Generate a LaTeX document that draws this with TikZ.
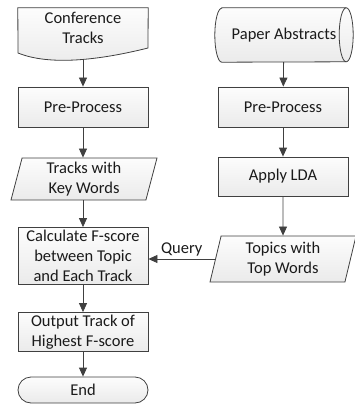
\documentclass[tikz,border=0pt]{standalone}
\usepackage{fontspec}
\setmainfont{Carlito}
\usetikzlibrary{shapes.geometric,arrows.meta,backgrounds}
\definecolor{FlowLine}{HTML}{404040}
\definecolor{FlowText}{HTML}{1A1A1A}

\begin{document}
\begin{tikzpicture}[x=1pt,y=-1pt,
    every node/.style={font=\fontsize{16.5}{20}\selectfont, text=FlowText, align=center, inner sep=0pt},
    flowfill/.style={draw=FlowLine, line width=0.8pt, top color=gray!2, bottom color=gray!16},
    procbox/.style={flowfill, rectangle, minimum width=130pt, minimum height=39pt},
    iobox/.style={flowfill, trapezium, trapezium left angle=72, trapezium right angle=108,
      trapezium stretches body, minimum width=146pt},
    flow/.style={draw=FlowLine, line width=0.8pt, -{Triangle[width=8pt,length=9pt]}}]
    \useasboundingbox (0,0) rectangle (355,406);

    % left column
    \node[minimum width=130pt, minimum height=40pt] at (83,28)  (conf) {Conference\\Tracks};
    \node[procbox, minimum height=40pt] at (83,107) (preA) {Pre-Process};
    \node[iobox, minimum height=42pt] at (84,179) (trackkw) {Tracks with\\Key Words};
    \node[procbox, minimum height=57pt] at (83,256) (calc) {Calculate F-score\\between Topic\\and Each Track};
    \node[procbox] at (83,332) (outp) {Output Track of\\Highest F-score};
    \node[procbox, minimum height=26pt, rounded corners=13pt] at (83,390) (endnode) {End};
    \coordinate (confbot) at (83,60);

    % right column
    \node[minimum width=138pt, minimum height=54pt] at (284,35) (paper) {Paper Abstracts};
    \node[procbox, minimum height=40pt] at (283,107) (preB) {Pre-Process};
    \node[procbox] at (283,176.5) (lda) {Apply LDA};
    \node[iobox, minimum height=46pt] at (283,259) (topics) {Topics with\\Top Words};

    % document and stored data outlines
    \begin{scope}[on background layer]
      \draw[flowfill] (conf.north west) -- (conf.north east) -- (148,48)
        .. controls (100,60) and (50,66) .. (18,53) -- cycle;
      \draw[flowfill] ([xshift=7pt]paper.north west) -- ([xshift=-7pt]paper.north east)
        arc[start angle=90, end angle=-90, x radius=7pt, y radius=27pt]
        -- ([xshift=7pt]paper.south west)
        arc[start angle=270, end angle=90, x radius=7pt, y radius=27pt] -- cycle;
      \draw[FlowLine, line width=0.8pt] ([xshift=-7pt]paper.north east)
        arc[start angle=90, end angle=270, x radius=7pt, y radius=27pt];
    \end{scope}

    \draw[flow] (confbot) -- (preA);
    \draw[flow] (preA) -- (preA |- trackkw.north);
    \draw[flow] (calc |- trackkw.south) -- (calc);
    \draw[flow] (calc) -- (outp);
    \draw[flow] (outp) -- (endnode);
    \draw[flow] (paper) -- (preB);
    \draw[flow] (preB) -- (lda);
    \draw[flow] (lda) -- (topics);
    \draw[flow] (topics.west) -- (topics.west -| calc.east) node[midway,above=2pt] {Query};
\end{tikzpicture}
\end{document}
